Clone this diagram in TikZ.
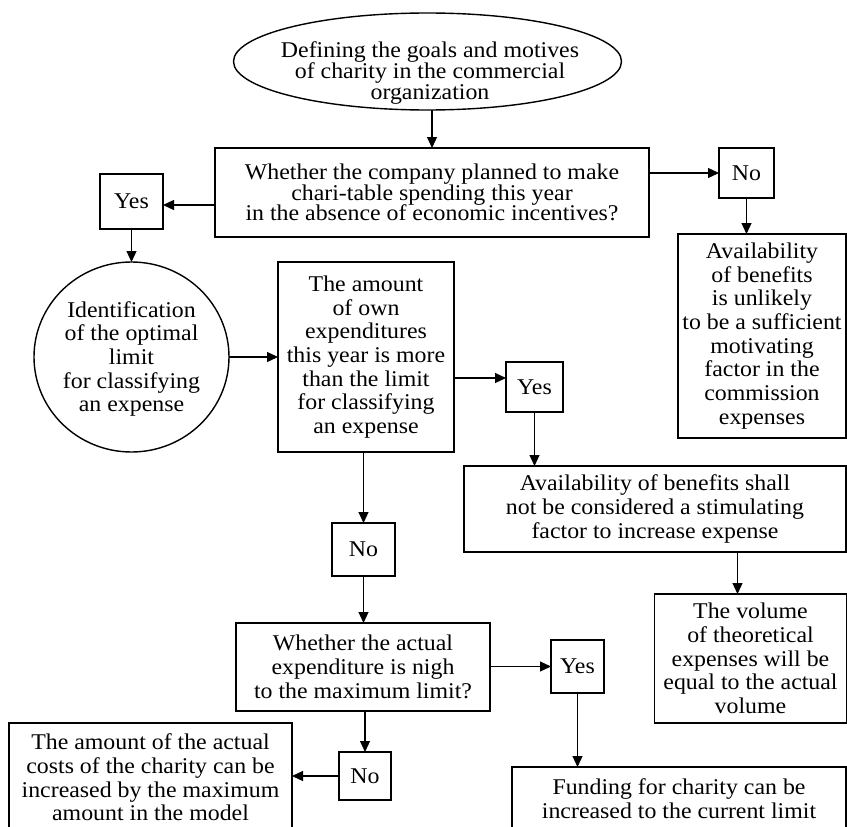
\documentclass[tikz,border=0pt]{standalone}
\usepackage{fontspec}
\setmainfont{Liberation Serif}[FakeStretch=1.06]
\usetikzlibrary{arrows.meta,shapes.geometric,calc}
\begin{document}
\begin{tikzpicture}[x=1pt,y=-1pt,
  box/.style={draw,line width=1.4pt,inner sep=0pt,outer sep=0pt,align=center,
    font=\fontsize{22.5}{23.7}\selectfont},
  shp/.style={draw,line width=1.4pt,inner sep=0pt,outer sep=0pt},
  txt/.style={inner sep=0pt,align=center,font=\fontsize{22.5}{23.7}\selectfont},
  arr/.style={line width=1.2pt,-{Triangle[length=11pt,width=10pt]}}
]
\useasboundingbox (0,0) rectangle (847,827);
\clip (0,0) rectangle (847,827);

% top ellipse
\node[shp,ellipse,minimum width=388pt,minimum height=97pt] (ell) at (427.5,61.5) {};
\node[txt,font=\fontsize{22.5}{18.5}\selectfont] (ellt) at (430,73)
  {Defining the goals and motives\\of charity in the commercial\\organization};

\node[box,minimum width=434pt,minimum height=89pt,font=\fontsize{22.5}{20.8}\selectfont] (q1) at (432,192.5)
  {Whether the company planned to make\\chari-table spending this year\\in the absence of economic incentives?};

\node[box,minimum width=55pt,minimum height=50pt] (no1) at (746.5,173) {No};
\node[box,minimum width=63pt,minimum height=55pt] (yes1) at (131.5,201.5) {Yes};

\node[shp,ellipse,minimum width=195pt,minimum height=190pt] (circ) at (131.5,357) {};
\node[txt] (circt) at (131.5,359)
  {Identification\\of the optimal\\limit\\for classifying\\an expense};

\node[box,minimum width=168pt,minimum height=204pt] (av1) at (762,336)
  {Availability\\of benefits\\is unlikely\\to be a sufficient\\motivating\\factor in the\\commission\\expenses};

\node[box,minimum width=176pt,minimum height=190pt] (amt) at (366,357)
  {The amount\\of own\\expenditures\\this year is more\\than the limit\\for classifying\\an expense};

\node[box,minimum width=57pt,minimum height=50pt] (yes2) at (534.5,387) {Yes};

\node[box,minimum width=382pt,minimum height=86pt] (av2) at (655,509)
  {Availability of benefits shall\\not be considered a stimulating\\factor to increase expense};

\node[box,minimum width=63pt,minimum height=53pt] (no2) at (363.5,549.5) {No};

\node[box,minimum width=192pt,minimum height=129pt] (av3) at (750.5,658.5)
  {The volume\\of theoretical\\expenses will be\\equal to the actual\\volume};

\node[box,minimum width=254pt,minimum height=88pt] (q2) at (363,667)
  {Whether the actual\\expenditure is nigh\\to the maximum limit?};

\node[box,minimum width=53pt,minimum height=53pt] (yes3) at (577.5,666.5) {Yes};

\node[box,minimum width=52pt,minimum height=48pt] (no3) at (365,776) {No};

\node[box,minimum width=283pt,minimum height=109pt] (cost) at (150.5,777.5)
  {The amount of the actual\\costs of the charity can be\\increased by the maximum\\amount in the model};

\node[box,minimum width=334pt,minimum height=63pt] (fund) at (679,798.5)
  {Funding for charity can be\\increased to the current limit};

% connectors
\coordinate (y1in) at ($(yes1.east)+(0,3.5)$);
\coordinate (y2in) at ($(yes2.west)+(0,-9)$);
\coordinate (a3in) at ($(av3.north)+(-13,0)$);

\draw[arr] (q1.north |- ell.south) -- (q1.north);
\draw[arr] (q1.east |- no1.west) -- (no1.west);
\draw[arr] (q1.west |- y1in) -- (y1in);
\draw[arr] (yes1.south) -- (circ.north);
\draw[arr] (no1.south) -- (no1.south |- av1.north);
\draw[arr] (circ.east) -- (amt.west);
\draw[arr] (amt.east |- y2in) -- (y2in);
\draw[arr] (yes2.south) -- (yes2.south |- av2.north);
\draw[arr] (no2.north |- amt.south) -- (no2.north);
\draw[arr] (av2.south -| a3in) -- (a3in);
\draw[arr] (no2.south) -- (no2.south |- q2.north);
\draw[arr] (q2.east |- yes3.west) -- (yes3.west);
\draw[arr] (yes3.south) -- (yes3.south |- fund.north);
\draw[arr] (no3.north |- q2.south) -- (no3.north);
\draw[arr] (no3.west) -- (cost.east |- no3.west);
\end{tikzpicture}
\end{document}
